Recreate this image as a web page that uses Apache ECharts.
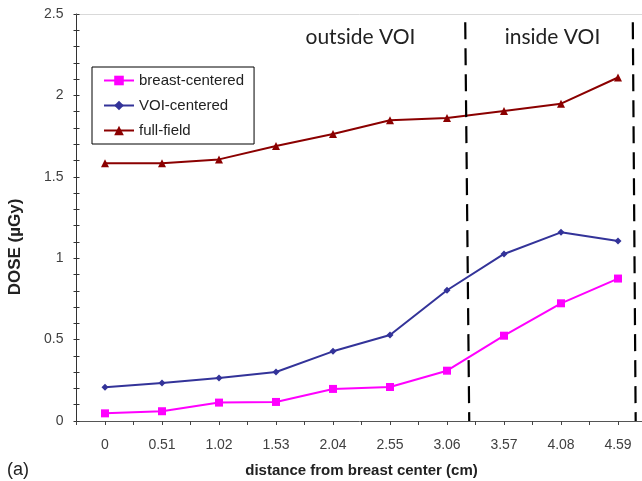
<!DOCTYPE html>
<html>
<head>
<meta charset="utf-8">
<script src="https://cdn.jsdelivr.net/npm/echarts@6/dist/echarts.min.js"></script>
<style>html,body{margin:0;padding:0;background:#fff;}#c{width:642px;height:481px;}</style>
</head>
<body>
<div id="c"></div>
<script>
// ---- data ----
var categories = ['0', '0.51', '1.02', '1.53', '2.04', '2.55', '3.06', '3.57', '4.08', '4.59'];
var breastCentered = [0.047, 0.060, 0.113, 0.117, 0.197, 0.209, 0.309, 0.524, 0.723, 0.875];
var voiCentered    = [0.207, 0.233, 0.264, 0.301, 0.428, 0.528, 0.803, 1.026, 1.159, 1.106];
var fullField      = [1.583, 1.583, 1.607, 1.689, 1.763, 1.847, 1.861, 1.904, 1.949, 2.110];
var yTicks = [0, 0.5, 1, 1.5, 2, 2.5];
// boundary lines (in category-index units), top/bottom ends
var voiBoundary1 = [[6.32, 2.45], [6.39, 0]];
var voiBoundary2 = [[9.26, 2.45], [9.31, 0]];

function pairs(arr) { return arr.map(function (v, i) { return [i, v]; }); }

var chart = echarts.init(document.getElementById('c'), null, {renderer: 'canvas'});
var FONT = 'Liberation Sans';
var option = {
  backgroundColor: '#fff',
  animation: false,
  textStyle: {fontFamily: FONT},
  grid: {left: 76.5, right: -4.5, top: 14, bottom: 60, containLabel: false, outerBoundsMode: 'none'},
  legend: {
    data: ['breast-centered', 'VOI-centered', 'full-field'],
    orient: 'vertical',
    left: 92, top: 67,
    backgroundColor: '#fff',
    borderColor: '#000', borderWidth: 1,
    padding: [6, 10, 6, 11],
    itemWidth: 30, itemHeight: 12, itemGap: 10,
    textStyle: {fontFamily: FONT, fontSize: 15, color: '#222', lineHeight: 12}
  },
  xAxis: [{
    type: 'value', min: -0.5, max: 9.5, interval: 0.5,
    name: 'distance from breast center (cm)',
    nameLocation: 'middle', nameGap: 42,
    nameTextStyle: {fontFamily: FONT, fontSize: 15, fontWeight: 'bold', color: '#222'},
    splitLine: {show: false},
    axisLine: {show: true, onZero: false, lineStyle: {color: '#555', width: 1}},
    axisTick: {show: true, length: 4, lineStyle: {color: '#444'}},
    axisLabel: {
      margin: 17, fontFamily: FONT, fontSize: 14, color: '#404040',
      formatter: function (v) { var i = Math.round(v); return (Math.abs(v - i) < 1e-6 && categories[i] !== undefined) ? categories[i] : ''; }
    }
  }, {
    type: 'value', min: -0.5, max: 9.5, position: 'top',
    axisLine: {show: true, onZero: false, lineStyle: {color: '#d9d9d9', width: 1}},
    axisTick: {show: false}, axisLabel: {show: false}, splitLine: {show: false}
  }],
  yAxis: [{
    type: 'value', min: yTicks[0], max: yTicks[yTicks.length - 1], interval: 0.5, position: 'left',
    splitLine: {show: false},
    axisLine: {show: true, onZero: false, lineStyle: {color: '#333', width: 1}},
    axisTick: {show: true, length: 3, lineStyle: {color: '#333'}},
    minorTick: {show: true, splitNumber: 5, length: 3, lineStyle: {color: '#333'}},
    axisLabel: {margin: 13, fontFamily: FONT, fontSize: 14, color: '#404040'}
  }, {
    type: 'value', min: yTicks[0], max: yTicks[yTicks.length - 1], interval: 0.5, position: 'left',
    splitLine: {show: false},
    axisLine: {show: false, onZero: false},
    axisTick: {show: true, inside: true, length: 3, lineStyle: {color: '#333'}},
    minorTick: {show: true, splitNumber: 5, length: 3, lineStyle: {color: '#333'}},
    axisLabel: {show: false}
  }],
  graphic: [
    {type: 'text', x: 360.5, y: 37, style: {text: 'outside VOI', font: '21px Lato', fill: '#222', align: 'center', verticalAlign: 'middle'}},
    {type: 'text', x: 552.5, y: 37, style: {text: 'inside VOI', font: '21px Lato', fill: '#222', align: 'center', verticalAlign: 'middle'}},
    {type: 'text', x: 7, y: 470, style: {text: '(a)', font: '18px "Liberation Sans"', fill: '#222', align: 'left', verticalAlign: 'middle'}},
    {type: 'text', x: 15.5, y: 247, rotation: Math.PI / 2, style: {text: 'DOSE (µGy)', font: 'bold 17px "Liberation Sans"', fill: '#222', align: 'center', verticalAlign: 'middle'}}
  ],
  series: [{
    name: 'breast-centered', type: 'line', data: pairs(breastCentered),
    symbol: 'rect', symbolSize: 8,
    lineStyle: {color: '#FF00FF', width: 2}, itemStyle: {color: '#FF00FF'}
  }, {
    name: 'VOI-centered', type: 'line', data: pairs(voiCentered),
    symbol: 'diamond', symbolSize: 7,
    lineStyle: {color: '#333399', width: 2}, itemStyle: {color: '#333399'}
  }, {
    name: 'full-field', type: 'line', data: pairs(fullField),
    symbol: 'triangle', symbolSize: 8,
    lineStyle: {color: '#8B0000', width: 2}, itemStyle: {color: '#8B0000'}
  }, {
    name: 'boundary', type: 'line', data: [],
    markLine: {
      silent: true, symbol: 'none', label: {show: false},
      lineStyle: {color: '#000', width: 2.2, type: [17, 9]},
      data: [
        [{coord: voiBoundary1[0]}, {coord: voiBoundary1[1]}],
        [{coord: voiBoundary2[0]}, {coord: voiBoundary2[1]}]
      ]
    }
  }]
};
chart.setOption(option);
</script>
</body>
</html>
